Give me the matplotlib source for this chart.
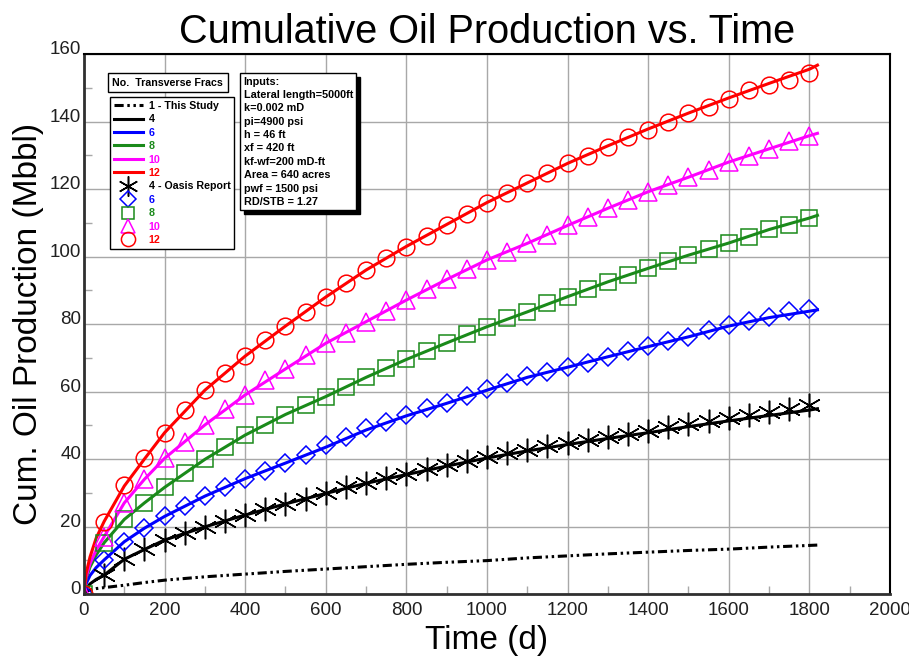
import matplotlib
matplotlib.use("Agg")
import matplotlib.pyplot as plt
from matplotlib.patches import Rectangle
from matplotlib.ticker import MultipleLocator

plt.rcParams["font.family"] = ["Liberation Sans", "DejaVu Sans"]

# time axis for the simulated curves (days)
t_line = [0, 5, 15, 30, 50, 100, 150, 200, 300, 400, 500, 600, 700, 800, 900,
          1000, 1100, 1200, 1300, 1400, 1500, 1600, 1700, 1800, 1820]
# cumulative oil (Mbbl), this study
study_1 = [0.3, 0.8, 1.2, 1.6, 1.9, 2.6, 3.4, 4.1, 5.1, 5.9, 6.7, 7.4, 8.1, 8.8, 9.4,
           9.9, 10.7, 11.3, 11.9, 12.4, 12.9, 13.3, 13.9, 14.4, 14.5]
study_4 = [0, 1.5, 3, 4.3, 5.6, 10.3, 13.2, 16, 19.9, 23.4, 26.7, 29.8, 32.8, 35.4, 37.9,
           40.3, 42.4, 44.3, 46.1, 47.8, 49.6, 51.3, 52.9, 54.5, 54.9]
study_6 = [0, 3, 5.5, 7.8, 10.1, 15.5, 19.5, 23, 29, 34.2, 38.8, 43.5, 48.6, 52.8, 56.5,
           60.4, 64.2, 67.2, 70.3, 73.3, 76.2, 79.4, 81.9, 83.8, 84.2]
study_8 = [0, 4.5, 8, 11.5, 15.2, 22.1, 27, 31.6, 39.9, 47.1, 53.2, 58.5, 64.2, 69.5, 74.4,
           79.2, 83.6, 88.1, 92.5, 96.5, 100.4, 104, 108, 111.4, 112.2]
study_10 = [0, 5, 9, 13, 17, 27, 34, 40.2, 50.1, 59, 66.7, 74.3, 80.7, 87.1, 93.2,
            99, 103.9, 109.2, 114.3, 119.2, 123.5, 128, 131.9, 135.8, 136.5]
study_12 = [0, 6, 11, 16.5, 21.5, 32, 40, 47.8, 60.4, 70.5, 79.4, 88, 96, 103, 109.5,
            116, 121.8, 127.6, 132.8, 137.8, 142.5, 147, 151.3, 155.5, 156.7]

# Oasis report points
t_mark = [0, 50, 100, 150, 200, 250, 300, 350, 400, 450, 500, 550, 600, 650, 700, 750,
          800, 850, 900, 950, 1000, 1050, 1100, 1150, 1200, 1250, 1300, 1350, 1400,
          1450, 1500, 1550, 1600, 1650, 1700, 1750, 1800]
oasis_4 = [5.6, 10.3, 13.2, 16, 18.2, 19.9, 21.7, 23.4, 25.1, 26.7, 28.1, 30, 31.6, 33,
           34.3, 35.6, 36.9, 38.2, 39.5, 40.7, 41.8, 42.8, 43.8, 44.8, 45.7, 46.6, 47.5,
           48.4, 49.4, 50.3, 51.2, 52.1, 53, 53.9, 54.9, 56]
oasis_6 = [0, 10.1, 15.5, 19.5, 23, 26.1, 29, 31.8, 34.2, 36.5, 38.8, 41.3, 44.1, 46.6,
           49.1, 51.1, 53, 55, 56.5, 58.7, 60.6, 62.4, 64.6, 65.9, 67.2, 68.5, 70.3, 72.1,
           73.5, 75.1, 76.2, 78.3, 79.6, 81, 82, 83.8, 84.4]
oasis_8 = [0, 15.2, 22.1, 26.9, 31.6, 35.8, 39.9, 43.7, 47.1, 50.1, 53, 55.9, 58.5, 61.2,
           64.4, 66.9, 69.5, 72.1, 74.5, 77, 79.2, 81.9, 83.6, 86.1, 88.1, 90.3, 92.5,
           94.5, 96.5, 98.8, 100.4, 102.2, 104, 105.9, 108.1, 109.4, 111.4]
oasis_10 = [0, 17, 26.9, 34, 40.2, 45.1, 50.1, 54.7, 59, 63.4, 66.6, 70.8, 74.3, 77.4,
            80.7, 83.9, 87.1, 90.3, 93.2, 96.2, 99, 101.4, 103.9, 106.4, 109.3, 111.8,
            114.3, 116.7, 119.2, 121.2, 123.5, 125.5, 128, 129.9, 131.9, 134.1, 135.8]
oasis_12 = [0, 21.4, 32.3, 40.2, 47.8, 54.5, 60.4, 65.6, 70.5, 75.3, 79.4, 83.6, 88.1,
            92.1, 96, 99.5, 102.9, 106.1, 109.3, 112.5, 115.8, 118.9, 121.7, 124.6, 127.8,
            129.8, 132.5, 135.5, 137.5, 140, 142.4, 144.3, 146.8, 149.3, 150.9, 152.3, 154.3]

inputs = ["Inputs:", "Lateral length=5000ft", "k=0.002 mD", "pi=4900 psi", "h = 46 ft",
          "xf = 420 ft", "kf-wf=200 mD-ft", "Area = 640 acres", "pwf = 1500 psi",
          "RD/STB = 1.27"]

RED, MAG, GRN, BLU, BLK = "#FF0000", "#FF00FF", "#1A8A1A", "#0000FF", "#000000"

fig = plt.figure(figsize=(9.09, 6.62), dpi=100)
ax = fig.add_axes([0.0924, 0.1027, 0.8867, 0.8157])

lw = 2.2
h1, = ax.plot(t_line, study_1, color=BLK, lw=lw, ls=(0, (3, 1.2, 0.8, 1.2, 0.8, 1.2)))
h4, = ax.plot(t_line, study_4, color=BLK, lw=lw)
h6, = ax.plot(t_line, study_6, color=BLU, lw=lw)
h8, = ax.plot(t_line, study_8, color=GRN, lw=lw)
h10, = ax.plot(t_line, study_10, color=MAG, lw=lw)
h12, = ax.plot(t_line, study_12, color=RED, lw=lw)

mew = 1.1
m4, = ax.plot(t_mark[1:], oasis_4, ls="none", marker=(6, 2, 0), ms=17, mec=BLK, mew=mew)
m6, = ax.plot(t_mark, oasis_6, ls="none", marker="D", ms=9.2, mfc="none", mec=BLU, mew=mew)
m8, = ax.plot(t_mark, oasis_8, ls="none", marker="s", ms=11, mfc="none", mec=GRN, mew=mew)
m10, = ax.plot(t_mark, oasis_10, ls="none", marker="^", ms=12.5, mfc="none", mec=MAG, mew=mew)
m12, = ax.plot(t_mark, oasis_12, ls="none", marker="o", ms=12, mfc="none", mec=RED, mew=mew)

ax.set_xlim(0, 2000)
ax.set_ylim(0, 160)
ax.xaxis.set_major_locator(MultipleLocator(200))
ax.xaxis.set_minor_locator(MultipleLocator(100))
ax.yaxis.set_major_locator(MultipleLocator(20))
ax.yaxis.set_minor_locator(MultipleLocator(10))
ax.grid(True, which="major", color="#A8A8A8", lw=1.0)
ax.set_axisbelow(True)
ax.tick_params(which="major", length=0, labelsize=13.5, colors="#202020")
ax.tick_params(axis="x", which="major", pad=6)
ax.tick_params(axis="y", which="major", pad=2)
ax.tick_params(which="minor", direction="in", length=6, color="#A8A8A8", width=1.0)
ax.tick_params(which="minor", top=False, right=False)
for lab in ax.get_yticklabels():
    lab.set_verticalalignment("baseline")
for s in ("left", "bottom"):
    ax.spines[s].set_linewidth(2.0)
    ax.spines[s].set_color("#303030")
for s in ("top", "right"):
    ax.spines[s].set_linewidth(1.5)

ax.set_title("Cumulative Oil Production vs. Time", fontsize=28.5, pad=8)
ax.set_ylabel("Cum. Oil Production (Mbbl)", fontsize=24, labelpad=4)
ax.set_xlabel("Time (d)", fontsize=24, labelpad=4)

# legend
handles = [h1, h4, h6, h8, h10, h12, m4, m6, m8, m10, m12]
labels = ["1 - This Study", "4", "6", "8", "10", "12", "4 - Oasis Report", "6", "8", "10", "12"]
colors = [BLK, BLK, BLU, GRN, MAG, RED, BLK, BLU, GRN, MAG, RED]
leg = ax.legend(handles, labels, loc="upper left", bbox_to_anchor=(0.032, 0.92),
                borderaxespad=0, fancybox=False, framealpha=1, edgecolor="black",
                prop={"weight": "bold", "size": 7.7}, handlelength=2.8,
                handletextpad=0.5, labelspacing=0.32, borderpad=0.35, markerscale=0.85)
leg.get_frame().set_linewidth(1.0)
for txt, c in zip(leg.get_texts(), colors):
    txt.set_color(c)

ax.text(0.104, 0.947, "No.  Transverse Fracs", transform=ax.transAxes, ha="center",
        va="center", fontsize=7.7, weight="bold", zorder=6,
        bbox=dict(boxstyle="square,pad=0.45", fc="white", ec="black", lw=1.0))

# inputs box with drop shadow
box = ax.text(0.198, 0.958, "\n".join(inputs), transform=ax.transAxes, ha="left", va="top",
              fontsize=7.8, weight="bold", linespacing=1.42, color="black", zorder=6,
              bbox=dict(boxstyle="square,pad=0.3", fc="white", ec="black", lw=1.0))
fig.canvas.draw()
ext = box.get_bbox_patch().get_window_extent().transformed(ax.transAxes.inverted())
dx, dy = 4 / (ax.bbox.width), 4 / (ax.bbox.height)
ax.add_patch(Rectangle((ext.x0 + dx, ext.y0 - dy), ext.width, ext.height,
                       transform=ax.transAxes, fc="black", ec="black", zorder=5.5))

fig.savefig("out.png", dpi=100, facecolor="white")
